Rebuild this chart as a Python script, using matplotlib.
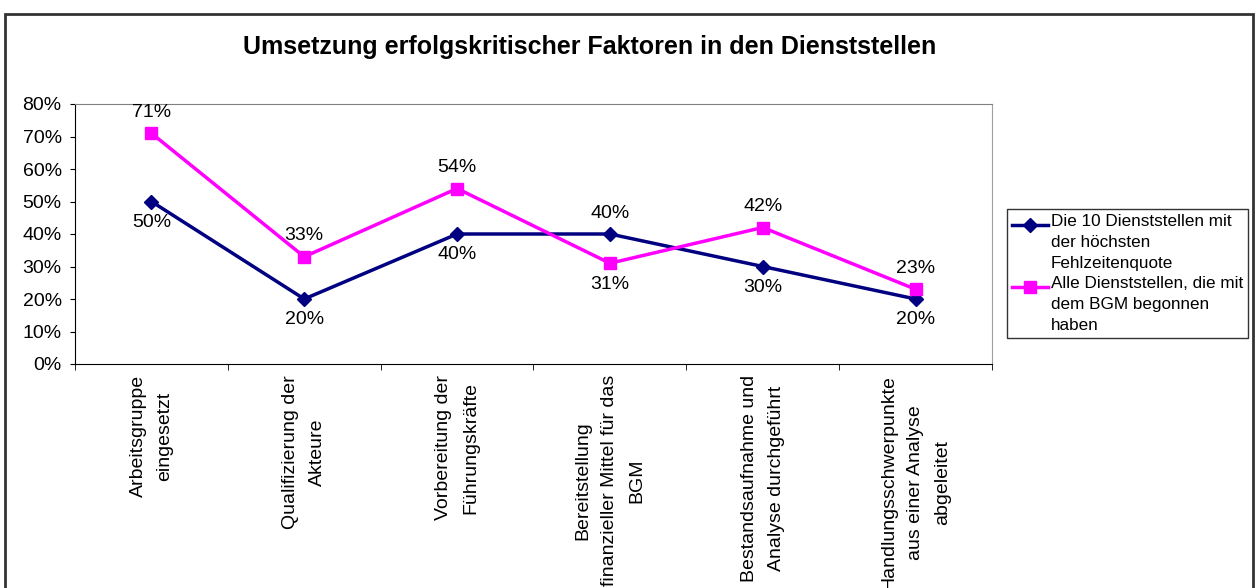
import numpy as np
import matplotlib.pyplot as plt
from matplotlib.patches import Rectangle
from matplotlib.legend_handler import HandlerLine2D

plt.rcParams['font.family'] = ['Liberation Sans', 'DejaVu Sans']

categories = ['Arbeitsgruppe\neingesetzt',
              'Qualifizierung der\nAkteure',
              'Vorbereitung der\nFührungskräfte',
              'Bereitstellung\nfinanzieller Mittel für das\nBGM',
              'Bestandsaufnahme und\nAnalyse durchgeführt',
              'Handlungsschwerpunkte\naus einer Analyse\nabgeleitet']
top10 = [50, 20, 40, 40, 30, 20]
alle = [71, 33, 54, 31, 42, 23]
# label above (+1) or below (-1) the point
top10_pos = [-1, -1, -1, 1, -1, -1]
alle_pos = [1, 1, 1, -1, 1, 1]

name_top10 = 'Die 10 Dienststellen mit\nder höchsten\nFehlzeitenquote'
name_alle = 'Alle Dienststellen, die mit\ndem BGM begonnen\nhaben'

fs = 14
leg_fs = 12.3
leg_ls = 1.5


class TopHandler(HandlerLine2D):
    # put the legend line next to the first text line, like excel does
    def create_artists(self, legend, orig_handle, xdescent, ydescent,
                       width, height, fontsize, trans):
        return super().create_artists(legend, orig_handle, xdescent,
                                      ydescent - fontsize*2.1, width, height,
                                      fontsize, trans)


fig = plt.figure(figsize=(12.56, 5.88), dpi=100)
ax = fig.add_axes([75/1256, 1-364/588, (992-75)/1256, (364-104)/588])

x = np.arange(len(categories))
l1, = ax.plot(x, top10, color='#000080', lw=2.5, marker='D', ms=7, label=name_top10)
l2, = ax.plot(x, alle, color='#FF00FF', lw=2.5, marker='s', ms=9, label=name_alle)

for xi, v, p in zip(x, top10, top10_pos):
    ax.annotate('%d%%' % v, (xi, v), xytext=(0, 15*p), textcoords='offset points',
                ha='center', va='center', fontsize=fs)
for xi, v, p in zip(x, alle, alle_pos):
    ax.annotate('%d%%' % v, (xi, v), xytext=(0, 15*p), textcoords='offset points',
                ha='center', va='center', fontsize=fs)

ax.set_xlim(-0.5, 5.5)
ax.set_ylim(0, 80)
ax.set_yticks(np.arange(0, 81, 10))
ax.set_yticklabels(['%d%%' % t for t in range(0, 81, 10)], fontsize=fs)
ax.set_xticks(x)
ax.set_xticklabels([])
ax.tick_params(axis='x', which='major', length=0)
ax.set_xticks(np.arange(-0.5, 6, 1), minor=True)
ax.tick_params(axis='x', which='minor', length=4, color='black')
ax.tick_params(axis='y', length=3.6, color='black', pad=6)

# category labels drawn as text so the line spacing can be set
for xi, c in zip(x, categories):
    ax.text(xi, -0.043, c, transform=ax.get_xaxis_transform(), rotation=90,
            ha='center', va='top', multialignment='center', fontsize=fs,
            linespacing=1.75, clip_on=False)

ax.spines['top'].set_color('#808080')
ax.spines['right'].set_color('#a0a0a0')
ax.spines['left'].set_color('black')
ax.spines['bottom'].set_color('black')

fig.text(590/1256, 1-47/588, 'Umsetzung erfolgskritischer Faktoren in den Dienststellen',
         ha='center', va='center', fontsize=18, fontweight='bold')

leg = fig.legend(handles=[l1, l2], loc='upper left',
                 bbox_to_anchor=(1007/1256, 1-209/588), fontsize=leg_fs,
                 frameon=True, fancybox=False, edgecolor='black',
                 handlelength=2.1, handletextpad=0.15, borderpad=0.3,
                 labelspacing=0.3, borderaxespad=0,
                 handler_map={l1: TopHandler(), l2: TopHandler()})
for t in leg.get_texts():
    t.set_linespacing(leg_ls)
leg.get_frame().set_linewidth(1)

fig.patches.append(Rectangle((5/1256, -0.1), (1253-5)/1256, 1.1 - 14/588,
                             transform=fig.transFigure, fill=False,
                             edgecolor='#333333', lw=2))

fig.savefig('out.png', dpi=100)
